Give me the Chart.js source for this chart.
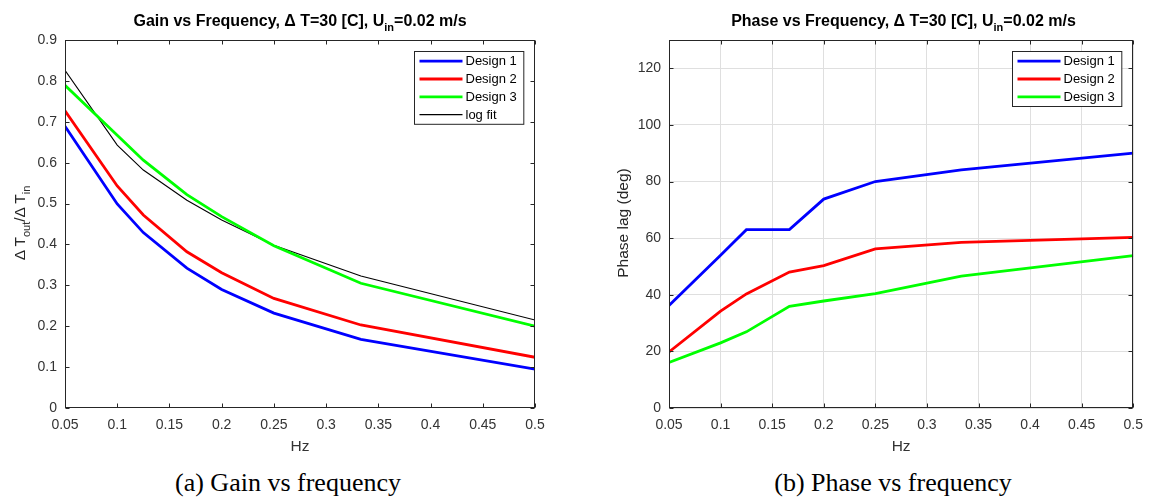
<!DOCTYPE html>
<html>
<head>
<meta charset="utf-8">
<script src="https://cdn.jsdelivr.net/npm/chart.js@4.4.1/dist/chart.umd.min.js"></script>
<style>
  body { margin:0; width:1152px; height:502px; background:#fff; position:relative; overflow:hidden; font-family:"Liberation Sans", Arial, sans-serif; }
  canvas { position:absolute; top:0; }
  .ttl { position:absolute; top:11px; width:600px; text-align:center; font-weight:bold; font-size:16px; line-height:19px; color:#000; white-space:nowrap; }
  .ylab { position:absolute; top:213px; width:200px; height:20px; line-height:20px; text-align:center; font-size:15.5px; color:#262626; white-space:nowrap; transform:rotate(-90deg); }
  .cap { position:absolute; top:468px; width:400px; text-align:center; font-family:"Liberation Serif", "Times New Roman", serif; font-size:26px; line-height:30px; color:#000; white-space:nowrap; }
  sub { font-size:11px; vertical-align:-5px; line-height:0; }
</style>
</head>
<body>
<canvas id="gainChart" width="576" height="460" style="left:0"></canvas>
<canvas id="phaseChart" width="576" height="460" style="left:576px"></canvas>

<div class="ttl" style="left:0">Gain vs Frequency, &Delta; T=30 [C], U<sub>in</sub>=0.02 m/s</div>
<div class="ttl" style="left:603.5px">Phase vs Frequency, &Delta; T=30 [C], U<sub>in</sub>=0.02 m/s</div>
<div class="ylab" style="left:-80.5px">&Delta; T<sub>out</sub>/&Delta; T<sub>in</sub></div>
<div class="ylab" style="left:523px">Phase lag (deg)</div>
<div class="cap" style="left:88px">(a) Gain vs frequency</div>
<div class="cap" style="left:693px">(b) Phase vs frequency</div>

<script>
// frequencies (Hz) the runs were made at
var freq = [0.05, 0.1, 0.125, 0.1667, 0.2, 0.25, 0.3333, 0.5];

var gainD1  = [0.689, 0.499, 0.429, 0.342, 0.290, 0.232, 0.168, 0.095];
var gainD2  = [0.727, 0.543, 0.472, 0.382, 0.331, 0.268, 0.203, 0.124];
var gainD3  = [0.789, 0.667, 0.606, 0.522, 0.468, 0.397, 0.305, 0.200];
var gainFit = [0.826, 0.643, 0.582, 0.508, 0.460, 0.398, 0.323, 0.215];

var phaseD1 = [36.2, 54.0, 63.0, 63.0, 73.8, 80.0, 84.1, 90.0];
var phaseD2 = [19.8, 34.2, 40.3, 48.0, 50.3, 56.2, 58.5, 60.3];
var phaseD3 = [16.1, 23.0, 26.9, 35.9, 37.8, 40.4, 46.6, 53.8];

var xTicks = [0.05, 0.1, 0.15, 0.2, 0.25, 0.3, 0.35, 0.4, 0.45, 0.5];
var gainTicks = [0, 0.1, 0.2, 0.3, 0.4, 0.5, 0.6, 0.7, 0.8, 0.9];
var phaseTicks = [0, 20, 40, 60, 80, 100, 120];

Chart.defaults.font.family = '"Liberation Sans", Arial, sans-serif';
Chart.defaults.color = '#333333';

function pts(ys) {
  return freq.map(function (f, i) { return {x: f, y: ys[i]}; });
}

function line(label, ys, color, w) {
  return { label: label, data: pts(ys), borderColor: color, backgroundColor: color,
           borderWidth: w, pointRadius: 0, tension: 0, fill: false };
}

// matlab style box, inner ticks on all four sides, legend in the top right corner
var matlabAxes = {
  id: 'matlabAxes',
  afterDraw: function (chart) {
    var ctx = chart.ctx, a = chart.chartArea;
    var xs = chart.scales.x, ys = chart.scales.y;
    var L = Math.round(a.left) + 0.5, R = Math.round(a.right) - 0.5;
    var T = Math.round(a.top) + 0.5, B = Math.round(a.bottom) - 0.5;
    ctx.save();
    ctx.strokeStyle = '#262626';
    ctx.lineWidth = 1;
    ctx.strokeRect(L, T, R - L, B - T);
    ctx.beginPath();
    xs.ticks.forEach(function (t) {
      var p = Math.round(xs.getPixelForValue(t.value)) + 0.5;
      ctx.moveTo(p, B); ctx.lineTo(p, B - 4);
      ctx.moveTo(p, T); ctx.lineTo(p, T + 4);
    });
    ys.ticks.forEach(function (t) {
      var p = Math.round(ys.getPixelForValue(t.value)) + 0.5;
      ctx.moveTo(L, p); ctx.lineTo(L + 4, p);
      ctx.moveTo(R, p); ctx.lineTo(R - 4, p);
    });
    ctx.stroke();

    // legend
    var sets = chart.data.datasets;
    ctx.font = '13px "Liberation Sans", Arial, sans-serif';
    var tw = 0;
    sets.forEach(function (d) { tw = Math.max(tw, ctx.measureText(d.label).width); });
    var rowH = 17.8, w = 5 + 43 + 3 + tw + 7, h = 19.4 + (sets.length - 1) * rowH;
    var bx = Math.round(a.right - 11.5 - w) + 0.5, by = Math.round(a.top + 11) + 0.5;
    ctx.fillStyle = '#fff';
    ctx.fillRect(bx, by, w, h);
    ctx.strokeStyle = '#262626';
    ctx.lineWidth = 1;
    ctx.strokeRect(bx, by, w, h);
    sets.forEach(function (d, i) {
      var yy = by + 9.7 + i * rowH;
      ctx.strokeStyle = d.borderColor;
      ctx.lineWidth = d.borderWidth;
      ctx.beginPath();
      ctx.moveTo(bx + 5, yy); ctx.lineTo(bx + 48, yy);
      ctx.stroke();
      ctx.fillStyle = '#000';
      ctx.textBaseline = 'middle';
      ctx.textAlign = 'left';
      ctx.fillText(d.label, bx + 51, yy + 0.5);
    });
    ctx.restore();
  }
};

function makeOptions(area, yMax, yTicks, grid) {
  return {
    responsive: false,
    animation: false,
    devicePixelRatio: 1,
    layout: { padding: { left: 0, top: area.top, right: 576 - area.right, bottom: 0 } },
    plugins: { legend: { display: false }, title: { display: false }, tooltip: { enabled: false } },
    scales: {
      x: {
        type: 'linear', min: 0.05, max: 0.5,
        afterBuildTicks: function (s) { s.ticks = xTicks.map(function (v) { return {value: v}; }); },
        afterFit: function (s) { s.height = 460 - area.bottom; },
        grid: { display: grid, drawTicks: false, color: '#dfdfdf' },
        border: { display: false },
        ticks: { font: { size: 14 }, padding: 9, maxRotation: 0, autoSkip: false,
                 callback: function (v) { return String(v); } },
        title: { display: true, text: 'Hz', font: { size: 15.5 }, padding: { top: 0, bottom: 4 } }
      },
      y: {
        type: 'linear', min: 0, max: yMax,
        afterBuildTicks: function (s) { s.ticks = yTicks.map(function (v) { return {value: v}; }); },
        afterFit: function (s) { s.width = area.left; },
        grid: { display: grid, drawTicks: false, color: '#dfdfdf' },
        border: { display: false },
        ticks: { font: { size: 14 }, padding: 8, autoSkip: false,
                 callback: function (v) { return String(v); } }
      }
    }
  };
}

new Chart(document.getElementById('gainChart'), {
  type: 'line',
  data: { datasets: [
    line('Design 1', gainD1, '#0000ff', 2.8),
    line('Design 2', gainD2, '#ff0000', 2.8),
    line('Design 3', gainD3, '#00ff00', 2.8),
    line('log fit', gainFit, '#000000', 1.1)
  ] },
  options: makeOptions({left: 65, right: 535, top: 40, bottom: 408}, 0.9, gainTicks, false),
  plugins: [matlabAxes]
});

new Chart(document.getElementById('phaseChart'), {
  type: 'line',
  data: { datasets: [
    line('Design 1', phaseD1, '#0000ff', 2.8),
    line('Design 2', phaseD2, '#ff0000', 2.8),
    line('Design 3', phaseD3, '#00ff00', 2.8)
  ] },
  options: makeOptions({left: 93, right: 562, top: 40, bottom: 408}, 130, phaseTicks, true),
  plugins: [matlabAxes]
});
</script>
</body>
</html>
